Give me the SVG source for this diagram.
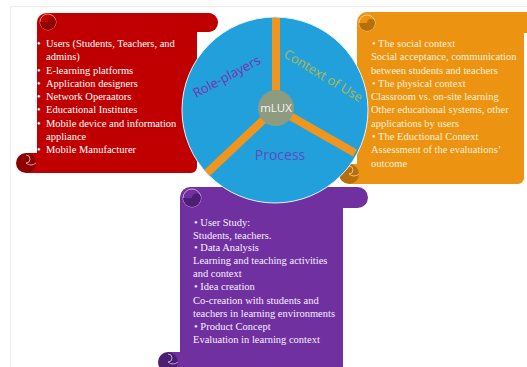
<svg xmlns="http://www.w3.org/2000/svg" width="527" height="367" viewBox="0 0 527 367">
<style>
.txt{font-family:"Liberation Serif","Times New Roman",serif;font-size:10.5px}
.red{fill:#c00000}
.redd{fill:#8e0000}
.org{fill:#ec9312}
.orgd{fill:#b86e0a}
.pur{fill:#7030a0}
.purd{fill:#4d1f72}
.lab{font-family:"Open Sans","Noto Sans",sans-serif}
</style>
<rect x="0" y="0" width="527" height="367" fill="#fff"/>
<path d="M10.5 367 V6.5 H527" fill="none" stroke="#ececec" stroke-width="1"/>

<g id="roleplayers-scroll">
  <path class="red" d="M37 22 H191 V13 H208 A9.5 9.5 0 0 1 208 32 H197 V167 A6 6 0 0 1 191 173 H26 V153 H37 Z"/>
  <rect class="red" x="37" y="13" width="181" height="19" rx="9.5"/>
  <circle cx="48" cy="22" r="8" fill="none" stroke="#f08080" stroke-width="1"/>
  <path class="redd" d="M40 22 A8 8 0 0 0 56 22 A4 4 0 0 0 48 22 Z"/>
  <circle class="redd" cx="26" cy="163" r="10"/>
  <path d="M26 155 A4 4 0 0 1 26 163 A8 8 0 0 0 36 163" fill="none" stroke="#f4c0c0" stroke-width="0.8"/>
  <g class="txt" fill="#fff">
    <text x="37" y="47">•</text><text x="46" y="47">Users (Students, Teachers, and</text>
    <text x="46" y="60">admins)</text>
    <text x="37" y="74">•</text><text x="46" y="74">E-learning platforms</text>
    <text x="37" y="87">•</text><text x="46" y="87">Application designers</text>
    <text x="37" y="100">•</text><text x="46" y="100">Network Operaators</text>
    <text x="37" y="113">•</text><text x="46" y="113">Educational Institutes</text>
    <text x="37" y="127">•</text><text x="46" y="127">Mobile device and information</text>
    <text x="46" y="140">appliance</text>
    <text x="37" y="153">•</text><text x="46" y="153">Mobile Manufacturer</text>
  </g>
</g>

<g id="context-scroll">
  <path class="org" d="M357 23 H527 V33 H524 V178 A6 6 0 0 1 518 184 H349 V164 H357 Z"/>
  <rect class="org" x="357" y="12" width="180" height="21" rx="10"/>
  <circle cx="367" cy="23" r="8" fill="none" stroke="#f8d090" stroke-width="1"/>
  <path class="orgd" d="M359 23 A8 8 0 0 0 375 23 A4 4 0 0 0 367 23 Z"/>
  <circle class="orgd" cx="349" cy="174" r="10"/>
  <path d="M349 166 A4 4 0 0 1 349 174 A8 8 0 0 0 359 174" fill="none" stroke="#f8d8a0" stroke-width="0.8"/>
  <g class="txt" fill="#fdf2dc">
    <text x="372" y="47">• The social context</text>
    <text x="371" y="60">Social acceptance, communication</text>
    <text x="371" y="74">between students and teachers</text>
    <text x="372" y="87">• The physical context</text>
    <text x="371" y="100">Classroom vs. on-site learning</text>
    <text x="371" y="113">Other educational systems, other</text>
    <text x="371" y="127">applications by users</text>
    <text x="372" y="140">• The Eductional Context</text>
    <text x="371" y="153">Assessment of the evaluations’</text>
    <text x="371" y="167">outcome</text>
  </g>
</g>

<g id="process-scroll">
  <path class="pur" d="M180 198 H343 V367 H168 V352 H180 Z"/>
  <rect class="pur" x="180" y="187" width="188" height="21" rx="10.5"/>
  <circle cx="192" cy="198" r="9" fill="none" stroke="#c8a0e8" stroke-width="1"/>
  <path class="purd" d="M183 198 A9 9 0 0 0 201 198 A4.5 4.5 0 0 0 192 198 Z"/>
  <circle class="purd" cx="168" cy="362" r="10"/>
  <path d="M168 354 A4 4 0 0 1 168 362 A8 8 0 0 0 178 362" fill="none" stroke="#d8c0f0" stroke-width="0.8"/>
  <g class="txt" fill="#f6efff">
    <text x="194" y="226">• User Study:</text>
    <text x="193" y="239">Students, teachers.</text>
    <text x="194" y="251">• Data Analysis</text>
    <text x="193" y="264">Learning and teaching activities</text>
    <text x="193" y="277">and context</text>
    <text x="194" y="290">• Idea creation</text>
    <text x="193" y="304">Co-creation with students and</text>
    <text x="193" y="317">teachers in learning environments</text>
    <text x="194" y="330">• Product Concept</text>
    <text x="193" y="343">Evaluation in learning context</text>
  </g>
</g>

<g id="mlux-wheel">
  <circle cx="275" cy="110" r="93" fill="#22a0dc" stroke="#e6f2fa" stroke-width="1"/>
  <g stroke="#f0961e" stroke-width="8" stroke-linecap="butt">
    <line x1="276" y1="18" x2="276" y2="108"/>
    <line x1="276" y1="108" x2="207" y2="173"/>
    <line x1="276" y1="108" x2="355" y2="153"/>
  </g>
  <text class="lab" x="227" y="81" font-size="13" fill="#7a30b0" text-anchor="middle" transform="rotate(-28 227 77)">Role-players</text>
  <text class="lab" x="323" y="80" font-size="13" fill="#b4b84a" text-anchor="middle" transform="rotate(31 323 76)">Context of Use</text>
  <text class="lab" x="280" y="160" font-size="14" fill="#6248c0" text-anchor="middle">Process</text>
</g>

<g id="mlux">
  <circle cx="276" cy="108" r="18" fill="#8e9b80"/>
  <text class="lab" x="276" y="112" font-size="11.5" fill="#f4f6f0" text-anchor="middle">mLUX</text>
</g>
</svg>
